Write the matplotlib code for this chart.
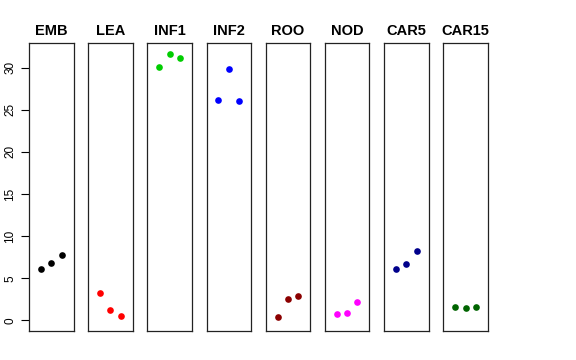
import numpy as np
import matplotlib
matplotlib.use("Agg")
import matplotlib.pyplot as plt

plt.rcParams['font.family'] = ['Liberation Sans', 'DejaVu Sans']

tissues = ["EMB", "LEA", "INF1", "INF2", "ROO", "NOD", "CAR5", "CAR15"]
colors = ["black", "red", "#00CD00", "blue", "#8B0000", "magenta", "#00008B", "#006400"]
reps = [1, 2, 3]
values = [
    [6.1, 6.8, 7.8],
    [3.3, 1.26, 0.5],
    [30.05, 31.65, 31.1],
    [26.15, 29.9, 26.05],
    [0.38, 2.5, 2.85],
    [0.7, 0.82, 2.14],
    [6.1, 6.72, 8.2],
    [1.58, 1.5, 1.58],
]
yticks = [0, 5, 10, 15, 20, 25, 30]
ylims = (-1.27, 32.9)

W, H = 576, 360
fig = plt.figure(figsize=(W / 100, H / 100), dpi=100)

left0, step, width = 29.0, 59.18, 44.5
top, bottom = 43.3, 331.0

for i, (name, col, vals) in enumerate(zip(tissues, colors, values)):
    ax = fig.add_axes([(left0 + i * step) / W, (H - bottom) / H,
                       width / W, (bottom - top) / H])
    ax.plot(reps, vals, 'o', color=col, markersize=4.8, markeredgewidth=0)
    ax.set_xlim(-0.16, 4.16)
    ax.set_ylim(*ylims)
    ax.set_xticks([])
    for s in ax.spines.values():
        s.set_linewidth(0.9)
        s.set_color("#222222")
    ax.set_title(name, fontsize=10.5, fontweight='bold', pad=6)
    if i == 0:
        ax.set_yticks(yticks)
        ax.set_yticklabels([str(t) for t in yticks], rotation=90, va='center', fontsize=8.5)
        ax.tick_params(axis='y', length=6, width=0.8, pad=3)
    else:
        ax.set_yticks([])

fig.savefig("out.png", dpi=100)
